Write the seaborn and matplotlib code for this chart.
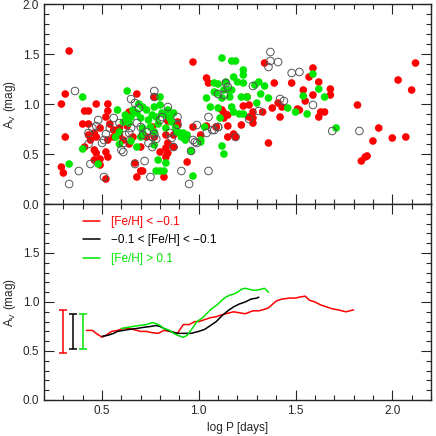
import numpy as np
import pandas as pd
import matplotlib
matplotlib.use("Agg")
import matplotlib.pyplot as plt
from matplotlib.ticker import MultipleLocator
import seaborn as sns

# ---- top panel: individual stars (log P, A_V) ----
red_logp = [0.33, 0.29, 0.30, 0.31, 0.29, 0.31, 0.40, 0.41, 0.43, 0.43, 0.43, 0.47, 0.41, 0.44,
            0.46, 0.47, 0.49, 0.46, 0.47, 0.49, 0.46, 0.49, 0.52, 0.53, 0.52, 0.53, 0.52, 0.53,
            0.53, 0.54, 0.56, 0.56, 0.59, 0.59, 0.61, 0.64, 0.63, 0.64, 0.68, 0.66, 0.67, 0.68,
            0.70, 0.71, 0.70, 0.73, 0.76, 0.77, 0.77, 0.80, 0.83, 0.83, 0.84, 0.84, 0.82, 0.87,
            0.87, 0.89, 0.83, 0.84, 0.89, 0.94, 0.97, 0.97, 1.01, 1.04, 1.05, 1.04, 1.09,
            1.34, 1.39, 1.48, 1.57, 1.59, 1.62, 1.68, 1.68, 1.54, 1.55, 1.59, 1.38, 1.41, 1.43,
            1.42, 1.51, 1.52, 1.62, 1.63, 1.65, 1.36, 1.33, 1.28, 1.26, 1.23, 1.25, 1.22, 1.28,
            1.28, 1.26, 1.15, 1.18, 1.19, 1.15, 1.13, 1.12, 1.13, 1.15, 1.09, 1.82, 1.84, 1.86,
            1.87, 1.90, 1.93, 2.00, 2.03, 2.07, 2.10, 2.12]
red_av = [1.53, 0.37, 0.31, 1.10, 1.00, 0.67, 0.80, 0.93, 0.93, 0.80, 0.69, 1.00, 0.57, 0.64,
          0.71, 0.67, 0.76, 0.54, 0.51, 0.45, 0.44, 0.39, 0.25, 0.64, 0.52, 0.47, 0.87, 1.00,
          0.93, 0.80, 0.74, 0.67, 0.76, 0.69, 0.64, 0.60, 0.78, 0.92, 1.10, 0.67, 0.41, 0.27,
          0.33, 0.33, 0.57, 0.67, 0.77, 0.67, 1.07, 0.52, 0.56, 0.69, 0.61, 0.83, 0.27, 0.57,
          0.69, 0.79, 0.47, 0.51, 0.82, 0.42, 0.77, 1.42, 0.69, 1.26, 1.21, 0.78, 0.77,
          1.41, 1.21, 1.21, 1.27, 1.36, 1.22, 1.15, 1.09, 1.14, 1.03, 1.09, 0.96, 1.01, 0.97,
          0.87, 0.95, 0.94, 0.87, 0.92, 0.92, 0.61, 0.92, 0.92, 0.99, 0.98, 1.07, 0.79, 0.81,
          0.86, 0.87, 0.78, 0.70, 0.67, 0.67, 0.86, 0.94, 0.91, 0.89, 0.77, 0.99, 0.43, 0.47,
          0.48, 0.63, 0.76, 0.66, 1.24, 0.67, 1.14, 1.41]

green_logp = [0.33, 0.40, 0.40, 0.48, 0.57, 0.58, 0.59, 0.63, 0.63, 0.59, 0.61, 0.62, 0.64, 0.65,
              0.66, 0.68, 0.69, 0.70, 0.71, 0.71, 0.73, 0.74, 0.75, 0.76, 0.77, 0.77, 0.78, 0.79,
              0.80, 0.80, 0.81, 0.83, 0.83, 0.84, 0.85, 0.86, 0.87, 0.88, 0.89, 0.90, 0.91, 0.92,
              0.93, 0.94, 0.96, 0.97, 1.01, 1.01, 1.03, 1.04, 1.06, 1.08, 1.08, 1.09, 0.78, 0.80,
              0.82, 0.79, 0.77, 0.83, 0.65, 0.68, 0.70, 0.71,
              1.12, 1.17, 1.19, 1.10, 1.14, 1.23, 1.23, 1.18, 1.20, 1.23, 1.17, 1.16, 1.13, 1.12,
              1.16, 1.22, 1.25, 1.29, 1.31, 1.34, 1.32, 1.36, 1.10, 1.11, 1.17, 1.18, 1.21, 1.23,
              1.30, 1.46, 1.50, 1.56, 1.54, 1.62, 1.59, 1.65, 1.71, 1.12, 1.13]
green_av = [0.40, 0.55, 1.07, 0.40, 0.67, 0.94, 0.72, 1.13, 0.86, 0.60, 0.82, 0.89, 0.81, 0.87,
            0.94, 0.91, 1.00, 0.86, 0.76, 0.97, 0.94, 0.84, 0.77, 0.89, 0.97, 0.72, 0.87, 0.80,
            1.07, 0.99, 0.91, 0.89, 0.76, 0.94, 0.86, 0.82, 0.91, 0.76, 0.72, 0.71, 0.67, 0.71,
            0.64, 0.69, 0.53, 0.28, 0.62, 0.64, 0.77, 1.06, 0.97, 1.12, 1.21, 1.11, 0.33, 0.33,
            0.33, 0.44, 0.59, 0.41, 0.63, 0.57, 0.67, 0.71,
            1.46, 1.43, 1.43, 1.20, 1.22, 1.34, 1.29, 1.27, 1.22, 1.21, 1.14, 1.14, 1.14, 1.06,
            1.07, 1.07, 1.07, 1.19, 1.22, 1.18, 1.10, 1.06, 0.96, 0.86, 0.97, 0.92, 0.90, 0.90,
            1.01, 0.96, 0.92, 0.90, 1.08, 1.15, 1.30, 1.07, 0.76, 0.58, 0.50]

open_logp = [0.33, 0.38, 0.36, 0.43, 0.48, 0.45, 0.47, 0.43, 0.44, 0.51, 0.50, 0.51, 0.52, 0.54,
             0.56, 0.59, 0.61, 0.60, 0.61, 0.65, 0.67, 0.69, 0.67, 0.72, 0.75, 0.77, 0.77, 0.77,
             0.78, 0.80, 0.81, 0.84, 0.85, 0.86, 0.87, 0.89, 0.89, 0.91, 0.95, 0.96, 0.97, 0.98,
             0.99, 0.99, 1.05, 1.04, 1.05, 1.07, 1.08, 1.10, 0.71, 0.73, 0.70, 0.68, 0.65, 0.64,
             0.62, 0.74, 0.76, 0.76,
             1.37, 1.37, 1.41, 1.36, 1.48, 1.52, 1.14, 1.13, 1.15, 1.10, 1.28, 1.42, 1.44, 1.31,
             1.26, 1.59, 1.69, 1.83, 1.19, 1.10]
open_av = [0.20, 0.33, 1.13, 0.60, 0.84, 0.76, 0.78, 0.71, 0.40, 0.27, 0.61, 0.64, 0.70, 0.76,
           0.86, 0.81, 0.61, 0.54, 0.52, 1.05, 1.01, 0.96, 0.40, 0.43, 0.27, 1.13, 1.07, 0.70,
           0.65, 0.84, 0.87, 0.97, 0.71, 0.66, 0.57, 0.87, 0.79, 0.33, 0.20, 0.53, 0.64, 0.62,
           0.61, 0.79, 0.33, 0.71, 0.87, 0.74, 0.74, 0.77, 0.69, 0.72, 0.77, 0.81, 0.76, 0.71,
           0.69, 0.61, 0.57, 0.67,
           1.52, 1.43, 1.42, 1.37, 1.31, 1.32, 1.21, 1.09, 1.17, 1.10, 1.18, 1.05, 1.03, 0.93,
           0.85, 0.99, 0.73, 0.73, 0.67, 0.77]

# ---- bottom panel: running means ----
red_x = [0.42, 0.45, 0.47, 0.50, 0.52, 0.55, 0.58, 0.61, 0.64, 0.68, 0.70, 0.73, 0.75, 0.79,
         0.82, 0.85, 0.89, 0.92, 0.95, 0.98, 1.00, 1.03, 1.06, 1.09, 1.12, 1.16, 1.18, 1.21,
         1.24, 1.28, 1.31, 1.33, 1.36, 1.40, 1.43, 1.47, 1.50, 1.52, 1.55, 1.57, 1.60, 1.63,
         1.66, 1.69, 1.72, 1.74, 1.76, 1.78, 1.80]
red_y = [0.71, 0.71, 0.68, 0.64, 0.66, 0.70, 0.71, 0.73, 0.73, 0.71, 0.70, 0.70, 0.69, 0.68,
         0.71, 0.70, 0.68, 0.77, 0.77, 0.80, 0.80, 0.82, 0.84, 0.85, 0.87, 0.89, 0.90, 0.89,
         0.88, 0.91, 0.91, 0.92, 0.94, 1.01, 1.03, 1.04, 1.04, 1.05, 1.06, 1.02, 1.00, 0.97,
         0.95, 0.93, 0.92, 0.91, 0.90, 0.91, 0.92]

black_x = [0.50, 0.53, 0.56, 0.58, 0.61, 0.64, 0.68, 0.71, 0.75, 0.78, 0.80, 0.84, 0.87, 0.89,
           0.92, 0.96, 0.98, 1.00, 1.03, 1.06, 1.09, 1.12, 1.15, 1.18, 1.21, 1.24, 1.27, 1.30,
           1.31]
black_y = [0.65, 0.66, 0.68, 0.70, 0.71, 0.72, 0.73, 0.74, 0.75, 0.76, 0.75, 0.71, 0.69, 0.68,
           0.68, 0.68, 0.69, 0.70, 0.72, 0.76, 0.80, 0.86, 0.91, 0.95, 0.98, 1.00, 1.03, 1.04,
           1.05]

green_x = [0.60, 0.63, 0.66, 0.69, 0.73, 0.76, 0.78, 0.80, 0.82, 0.85, 0.87, 0.89, 0.92, 0.94,
           0.97, 0.99, 1.02, 1.04, 1.06, 1.08, 1.10, 1.12, 1.14, 1.16, 1.18, 1.20, 1.22, 1.24,
           1.26, 1.28, 1.30, 1.32, 1.34, 1.36]
green_y = [0.73, 0.74, 0.75, 0.76, 0.77, 0.79, 0.78, 0.76, 0.73, 0.71, 0.68, 0.66, 0.64, 0.66,
           0.74, 0.80, 0.84, 0.88, 0.92, 0.95, 0.98, 1.02, 1.05, 1.07, 1.08, 1.10, 1.13, 1.14,
           1.13, 1.12, 1.12, 1.13, 1.14, 1.10]

group_labels = ["[Fe/H] < \u22120.1", "\u22120.1 < [Fe/H] < \u22120.1", "[Fe/H] > 0.1"]

# typical error bars (x, low, high)
err_x = [0.30, 0.35, 0.40]
err_lo = [0.48, 0.52, 0.52]
err_hi = [0.92, 0.88, 0.88]

RED = "#ff0000"
GREEN = "#00e600"
colors = [RED, "black", GREEN]

sns.set_style("ticks")
plt.rcParams["font.family"] = ["Liberation Sans", "DejaVu Sans"]
plt.rcParams["mathtext.default"] = "regular"
plt.rcParams["font.size"] = 8.5

fig = plt.figure(figsize=(4.36, 4.36), dpi=100)
ax1 = fig.add_axes([0.1009, 0.5321, 0.8876, 0.4587])
ax2 = fig.add_axes([0.1009, 0.0826, 0.8876, 0.4495])

# top panel
sns.scatterplot(x=red_logp, y=red_av, ax=ax1, color=RED, s=30, edgecolor="none")
sns.scatterplot(x=green_logp, y=green_av, ax=ax1, color=GREEN, s=30, edgecolor="none")
ax1.scatter(open_logp, open_av, s=30, facecolors="none", edgecolors="#555555", linewidths=0.7)

# bottom panel
lines = pd.concat([
    pd.DataFrame({"logP": red_x, "Av": red_y, "group": group_labels[0]}),
    pd.DataFrame({"logP": black_x, "Av": black_y, "group": group_labels[1]}),
    pd.DataFrame({"logP": green_x, "Av": green_y, "group": group_labels[2]}),
])
sns.lineplot(data=lines, x="logP", y="Av", hue="group", palette=colors,
             sort=False, estimator=None, linewidth=1.1, ax=ax2)
for xe, lo, hi, c in zip(err_x, err_lo, err_hi, colors):
    mid = (lo + hi) / 2
    ax2.errorbar([xe], [mid], yerr=[[mid - lo], [hi - mid]], fmt="none",
                 ecolor=c, elinewidth=1.1, capsize=3, capthick=1.1)

leg = ax2.legend(loc="upper left", bbox_to_anchor=(0.085, 0.97), frameon=False,
                 handlelength=1.5, handletextpad=0.9, labelspacing=0.55,
                 borderpad=0, fontsize=8.5, labelcolor="linecolor")

for ax in (ax1, ax2):
    ax.set_xlim(0.2, 2.2)
    ax.set_ylim(0, 2.0)
    ax.xaxis.set_major_locator(MultipleLocator(0.5))
    ax.xaxis.set_minor_locator(MultipleLocator(0.1))
    ax.yaxis.set_minor_locator(MultipleLocator(0.1))
    ax.tick_params(which="both", direction="in", top=True, right=True, width=0.8)
    ax.tick_params(which="major", length=7)
    ax.tick_params(which="minor", length=3.5)
    for sp in ax.spines.values():
        sp.set_linewidth(1.0)
    ax.set_ylabel("A$_V$ (mag)", labelpad=3)

ax1.set_yticks([0.0, 0.5, 1.0, 1.5, 2.0])
ax1.tick_params(labelbottom=False)
ax1.set_xlabel("")
ax2.set_yticks([0.0, 0.5, 1.0, 1.5])
ax2.set_xlabel("log P [days]")

fig.savefig("out.png", dpi=100)
